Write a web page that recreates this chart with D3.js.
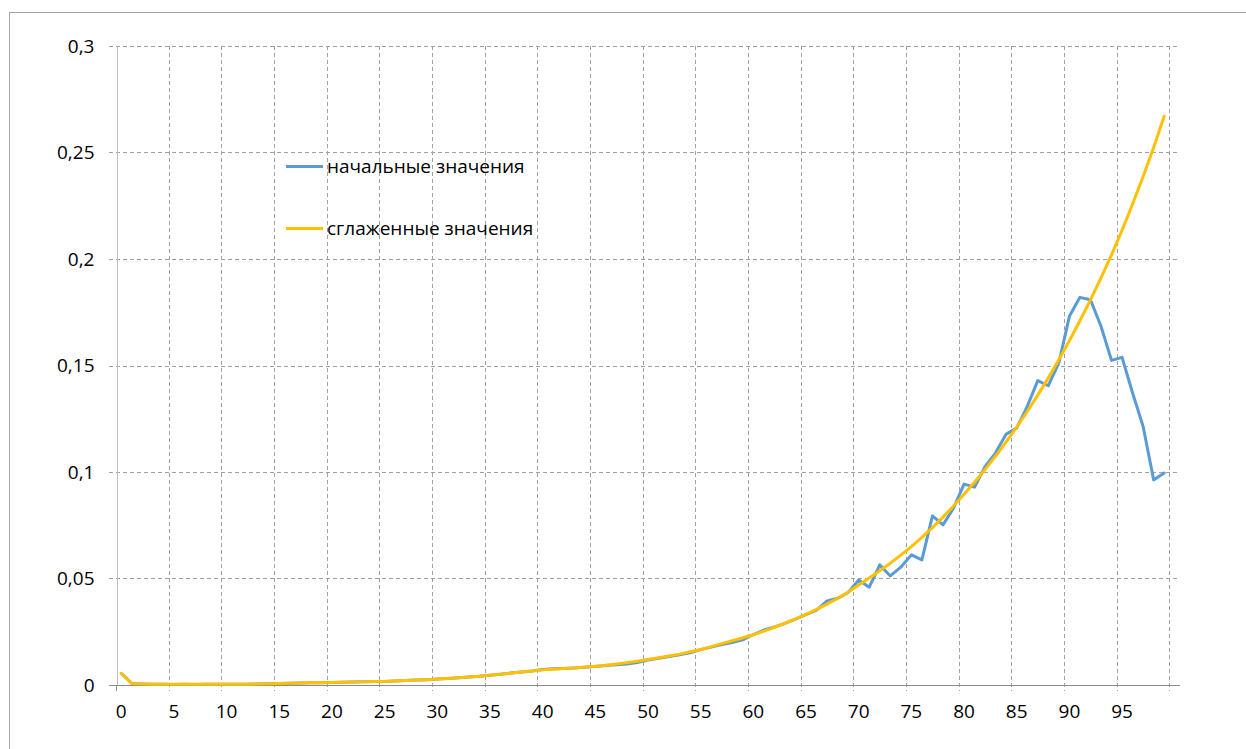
<!DOCTYPE html>
<html>
<head>
<meta charset="utf-8">
<script src="https://cdn.jsdelivr.net/npm/d3@7"></script>
<style>
  body { margin: 0; background: #fff; }
  svg text { font-family: "Open Sans", "Noto Sans", sans-serif; fill: #000; }
  .axis path, .axis line { shape-rendering: crispEdges; }
</style>
</head>
<body>
<script>
// category slots: 0..99 carry data, the 101st slot is empty
var categories = d3.range(0, 101);

var initialValues = [
  0.0055, 0.0007, 0.0005, 0.0004, 0.0003, 0.0002, 0.0003, 0.0002, 0.0003, 0.0003,
  0.0003, 0.0004, 0.0004, 0.0005, 0.0006, 0.0007, 0.0008, 0.0009, 0.0010, 0.0011,
  0.0012, 0.0013, 0.0014, 0.0015, 0.0016, 0.0017, 0.0019, 0.0021, 0.0023, 0.0025,
  0.0028, 0.0031, 0.0034, 0.0038, 0.0041, 0.0046, 0.0051, 0.0056, 0.0061, 0.0066,
  0.0073, 0.0076, 0.0078, 0.0080, 0.0083, 0.0087, 0.0091, 0.0095, 0.0099, 0.0106,
  0.0117, 0.0126, 0.0134, 0.0142, 0.0151, 0.0166, 0.0178, 0.0190, 0.0199, 0.0212,
  0.0237, 0.0258, 0.0272, 0.0289, 0.0309, 0.0330, 0.0351, 0.0395, 0.0407, 0.0434,
  0.0493, 0.0459, 0.0564, 0.0512, 0.0553, 0.0611, 0.0587, 0.0794, 0.0752, 0.0830,
  0.0943, 0.0929, 0.1026, 0.1090, 0.1178, 0.1206, 0.1308, 0.1429, 0.1405, 0.1512,
  0.1731, 0.1820, 0.1809, 0.1684, 0.1524, 0.1538, 0.1371, 0.1214, 0.0963, 0.0995
];

var smoothedValues = [
  0.0055, 0.0007, 0.0005, 0.0004, 0.0003, 0.0003, 0.0003, 0.0003, 0.0003, 0.0003,
  0.0003, 0.0004, 0.0004, 0.0005, 0.0006, 0.0007, 0.0008, 0.0009, 0.0010, 0.0011,
  0.0012, 0.0013, 0.0014, 0.0015, 0.0016, 0.0017, 0.0019, 0.0021, 0.0023, 0.0025,
  0.0028, 0.0031, 0.0034, 0.0037, 0.0041, 0.0046, 0.0051, 0.0056, 0.0061, 0.0066,
  0.0071, 0.0074, 0.0077, 0.0080, 0.0084, 0.0088, 0.0093, 0.0099, 0.0105, 0.0112,
  0.0120, 0.0128, 0.0136, 0.0145, 0.0156, 0.0167, 0.0180, 0.0194, 0.0208, 0.0222,
  0.0236, 0.0253, 0.0271, 0.0290, 0.0310, 0.0332, 0.0355, 0.0380, 0.0407, 0.0437,
  0.0470, 0.0502, 0.0536, 0.0572, 0.0610, 0.0650, 0.0693, 0.0739, 0.0788, 0.0840,
  0.0895, 0.0952, 0.1012, 0.1075, 0.1141, 0.1211, 0.1284, 0.1361, 0.1442, 0.1527,
  0.1616, 0.1710, 0.1808, 0.1911, 0.2019, 0.2135, 0.2258, 0.2387, 0.2524, 0.2670
];

var xTickValues = [0, 5, 10, 15, 20, 25, 30, 35, 40, 45, 50, 55, 60, 65, 70, 75, 80, 85, 90, 95];
var xTickLabels = ["0", "5", "10", "15", "20", "25", "30", "35", "40", "45",
                   "50", "55", "60", "65", "70", "75", "80", "85", "90", "95"];
var yTickValues = [0, 0.05, 0.1, 0.15, 0.2, 0.25, 0.3];
var yTickLabels = ["0", "0,05", "0,1", "0,15", "0,2", "0,25", "0,3"];

var seriesNames = ["начальные значения", "сглаженные значения"];
var seriesColors = ["#5b9bd5", "#ffc000"];

var wi = 1246, he = 749;
var plotLeft = 116, plotRight = 1180, plotTop = 46, plotBottom = 685;
var fontSize = "19px";

var svg = d3.select("body").append("svg")
  .attr("width", wi)
  .attr("height", he);

// chart border (runs off the picture on the right and bottom)
svg.append("rect")
  .attr("x", 9.5).attr("y", 12.5)
  .attr("width", 1300).attr("height", 800)
  .attr("fill", "none")
  .attr("stroke", "#a6a6a6");

var xBand = d3.scaleBand().domain(categories).range([plotLeft, plotRight]).padding(0);
var xEdge = d3.scaleLinear().domain([0, categories.length]).range([plotLeft, plotRight]);
var yScale = d3.scaleLinear().domain([0, 0.3]).range([plotBottom, plotTop]);

// horizontal gridlines
svg.append("g")
  .selectAll("line")
  .data(yTickValues.slice(1))
  .enter().append("line")
  .attr("x1", plotLeft - 7).attr("x2", plotRight)
  .attr("y1", function(d) { return Math.round(yScale(d)) + 0.5; })
  .attr("y2", function(d) { return Math.round(yScale(d)) + 0.5; })
  .attr("stroke", "#a0a0a0")
  .attr("stroke-dasharray", "4,3");

// vertical gridlines every 5 categories
svg.append("g")
  .selectAll("line")
  .data(d3.range(5, categories.length, 5))
  .enter().append("line")
  .attr("x1", function(d) { return Math.round(xEdge(d)) + 0.5; })
  .attr("x2", function(d) { return Math.round(xEdge(d)) + 0.5; })
  .attr("y1", plotTop).attr("y2", plotBottom + 6)
  .attr("stroke", "#a0a0a0")
  .attr("stroke-dasharray", "4,3");

// y axis
var yAxis = d3.axisLeft(yScale)
  .tickValues(yTickValues)
  .tickFormat(function(d, i) { return yTickLabels[i]; })
  .tickSize(0)
  .tickPadding(22);
var gy = svg.append("g")
  .attr("class", "axis")
  .attr("transform", "translate(" + (plotLeft + 0.5) + ",0)")
  .call(yAxis);
gy.select(".domain").attr("stroke", "#bfbfbf");
gy.selectAll("text").style("font-size", fontSize);

// x axis line and tick marks
svg.append("line")
  .attr("x1", plotLeft - 7).attr("x2", plotRight)
  .attr("y1", plotBottom + 0.5).attr("y2", plotBottom + 0.5)
  .attr("stroke", "#8c8c8c");
svg.append("line")
  .attr("x1", plotLeft + 0.5).attr("x2", plotLeft + 0.5)
  .attr("y1", plotBottom).attr("y2", plotBottom + 6)
  .attr("stroke", "#8c8c8c");

var xAxis = d3.axisBottom(xBand)
  .tickValues(xTickValues)
  .tickFormat(function(d, i) { return xTickLabels[i]; })
  .tickSize(0)
  .tickPadding(20);
var gx = svg.append("g")
  .attr("class", "axis")
  .attr("transform", "translate(0," + plotBottom + ")")
  .call(xAxis);
gx.select(".domain").remove();
gx.selectAll("text").style("font-size", fontSize);

// series
var line = d3.line()
  .x(function(d, i) { return xBand(categories[i]) + xBand.bandwidth() / 2; })
  .y(function(d) { return yScale(d); });

[initialValues, smoothedValues].forEach(function(values, k) {
  svg.append("path")
    .datum(values)
    .attr("d", line)
    .attr("fill", "none")
    .attr("stroke", seriesColors[k])
    .attr("stroke-width", 3)
    .attr("stroke-linejoin", "round")
    .attr("stroke-linecap", "round");
});

// legend
var legend = svg.append("g")
  .selectAll("g")
  .data(seriesNames)
  .enter().append("g")
  .attr("transform", function(d, i) { return "translate(286," + (166.5 + i * 62) + ")"; });
legend.append("line")
  .attr("x1", 0).attr("x2", 37)
  .attr("stroke", function(d, i) { return seriesColors[i]; })
  .attr("stroke-width", 3);
legend.append("text")
  .attr("x", 41)
  .attr("dy", "0.35em")
  .style("font-size", fontSize)
  .text(function(d) { return d; });
</script>
</body>
</html>
